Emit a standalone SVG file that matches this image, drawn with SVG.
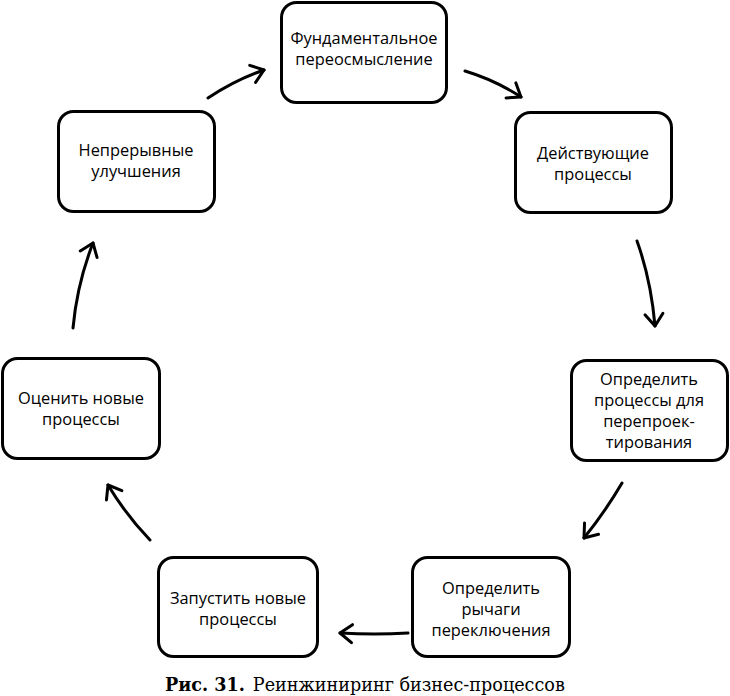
<svg xmlns="http://www.w3.org/2000/svg" width="730" height="696" viewBox="0 0 730 696">
<style>
.box{fill:#fff;stroke:#000;stroke-width:3}
.t{font-family:"Open Sans","DejaVu Sans",sans-serif;font-size:16.4px;fill:#000;text-anchor:middle}
.c{fill:none;stroke:#000;stroke-width:3;stroke-linecap:round;marker-end:url(#ah)}
.cap{font-family:"DejaVu Serif","Liberation Serif",serif;font-size:17.6px;fill:#000}
</style>
<defs>
<marker id="ah" markerWidth="12" markerHeight="14" refX="10" refY="7" orient="auto" markerUnits="userSpaceOnUse" overflow="visible">
<path d="M-2,-2 L10,7 L-2,16" fill="none" stroke="#000" stroke-width="3" stroke-linecap="round" stroke-linejoin="round"/>
</marker>
</defs>
<rect width="730" height="696" fill="#fff"/>
<g id="n1"><rect class="box" x="281.5" y="2.5" width="165" height="100" rx="15"/>
<text class="t" x="364" y="44">Фундаментальное</text><text class="t" x="364" y="65">переосмысление</text></g>
<g id="n2"><rect class="box" x="515.5" y="112.5" width="156" height="100" rx="15"/>
<text class="t" x="593" y="159">Действующие</text><text class="t" x="593" y="180">процессы</text></g>
<g id="n3"><rect class="box" x="571.5" y="360.5" width="156" height="100" rx="15"/>
<text class="t" x="649" y="385">Определить</text><text class="t" x="649" y="406">процессы для</text><text class="t" x="649" y="427">перепроек-</text><text class="t" x="649" y="448">тирования</text></g>
<g id="n4"><rect class="box" x="412.5" y="557.5" width="157" height="99" rx="15"/>
<text class="t" x="491" y="594">Определить</text><text class="t" x="491" y="615">рычаги</text><text class="t" x="491" y="636">переключения</text></g>
<g id="n5"><rect class="box" x="158.5" y="557.5" width="159" height="99" rx="15"/>
<text class="t" x="238" y="604">Запустить новые</text><text class="t" x="238" y="625">процессы</text></g>
<g id="n6"><rect class="box" x="2.5" y="358.5" width="157" height="100" rx="15"/>
<text class="t" x="81" y="404">Оценить новые</text><text class="t" x="81" y="425">процессы</text></g>
<g id="n7"><rect class="box" x="58.5" y="111.5" width="156" height="100" rx="15"/>
<text class="t" x="136" y="156">Непрерывные</text><text class="t" x="136" y="177">улучшения</text></g>
<g id="connectors">
<path class="c" d="M208,98 Q235,80 264,70"/>
<path class="c" d="M465,71 Q495,80 521,97"/>
<path class="c" d="M637,241 Q651,280 655,326"/>
<path class="c" d="M622,483 Q605,512 584,538"/>
<path class="c" d="M408,633 Q375,635 340,633"/>
<path class="c" d="M150,540 Q126,515 108,485"/>
<path class="c" d="M73,328 Q77,284 93,243"/>
</g>
<text class="cap" x="165" y="691"><tspan font-weight="bold">Рис. 31.</tspan><tspan dx="8">Реинжиниринг бизнес-процессов</tspan></text>
</svg>
